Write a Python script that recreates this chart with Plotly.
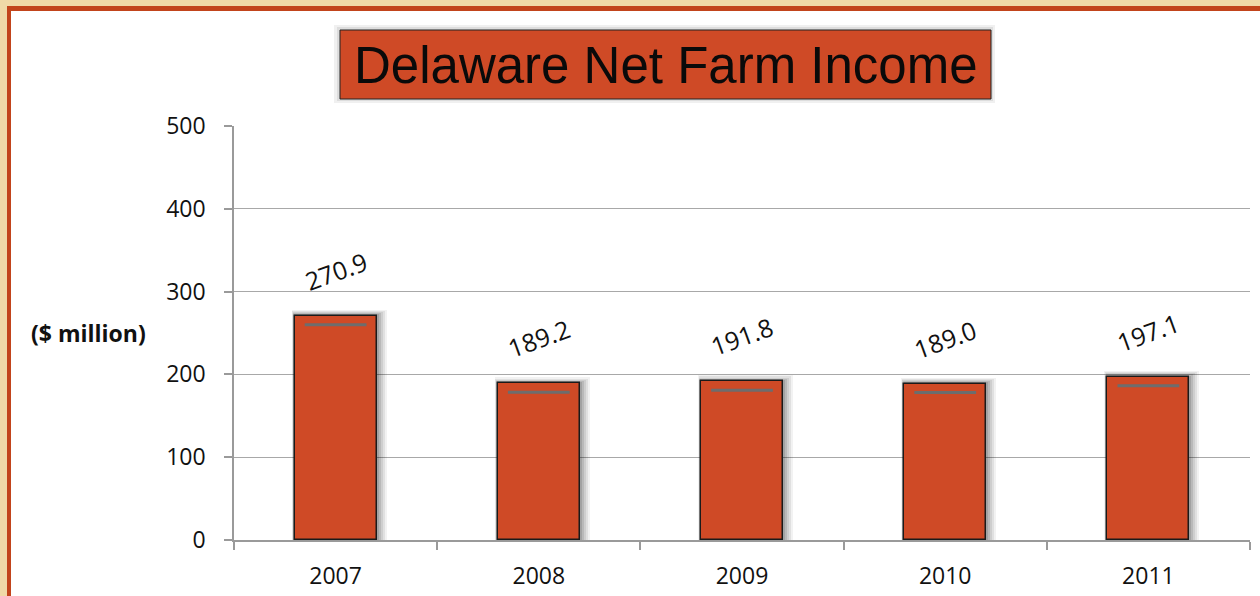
import plotly.graph_objects as go

years = ["2007", "2008", "2009", "2010", "2011"]
income = [270.9, 189.2, 191.8, 189.0, 197.1]
label_text = ["270.9", "189.2", "191.8", "189.0", "197.1"]
y_ticks = [0, 100, 200, 300, 400, 500]

W, H = 1260, 596
ML, MR, MT, MB = 234, 10, 126, 56
PW, PH = W - ML - MR, H - MT - MB

def px(x):
    return (x - ML) / PW

def py(y):
    return (H - MB - y) / PH

BAR = "#CF4A26"
BORDER = "#C2441B"
CREAM = "#F0D9A7"
BW = 0.404
CAT_PX = PW / 5.0          # pixels per category
UNIT_PX = PH / 500.0       # pixels per y unit

fig = go.Figure()

# soft shadow layers behind bars (mostly to the right and above)
for ext, a in [(10, 0.05), (8, 0.07), (6, 0.08), (4, 0.10), (2, 0.12)]:
    left = ext * 0.3 / CAT_PX
    right = ext / CAT_PX
    top = ext * 0.6 / UNIT_PX
    fig.add_trace(go.Bar(
        x=years, y=[v + top for v in income],
        width=BW + left + right, offset=-BW / 2 - left,
        marker=dict(color=f"rgba(0,0,0,{a})", line=dict(width=0)),
        hoverinfo="skip", showlegend=False))

fig.add_trace(go.Bar(
    x=years, y=income, width=BW,
    marker=dict(color=BAR, line=dict(color="#1a1a1a", width=1.5)),
    showlegend=False))

shapes = [
    dict(type="rect", xref="paper", yref="paper", x0=px(7), x1=px(1300), y0=py(6), y1=py(700),
         fillcolor=BORDER, line=dict(width=0), layer="below"),
    dict(type="rect", xref="paper", yref="paper", x0=px(11), x1=px(1300), y0=py(11), y1=py(700),
         fillcolor="white", line=dict(width=0), layer="below"),
    # title box shadow
    dict(type="rect", xref="paper", yref="paper", x0=px(334), x1=px(995), y0=py(25), y1=py(103),
         fillcolor="rgba(0,0,0,0.06)", line=dict(width=0), layer="above"),
    dict(type="rect", xref="paper", yref="paper", x0=px(337), x1=px(993), y0=py(27), y1=py(101),
         fillcolor="rgba(0,0,0,0.08)", line=dict(width=0), layer="above"),
    dict(type="rect", xref="paper", yref="paper", x0=px(340), x1=px(991), y0=py(30), y1=py(99),
         fillcolor=BAR, line=dict(color="#222", width=1), layer="above"),
]

# inner gray highlight line near each bar top
for i, v in enumerate(income):
    shapes.append(dict(type="line", xref="x", yref="y", x0=i - 0.152, x1=i + 0.152,
                       ysizemode="pixel", yanchor=v, y0=-9, y1=-9,
                       line=dict(color="#6d6d6d", width=3), layer="above"))

annotations = [
    dict(text="Delaware Net Farm Income", xref="paper", yref="paper", x=px(666), y=py(65),
         showarrow=False, xanchor="center", yanchor="middle",
         font=dict(family="Liberation Sans, Arial", size=51, color="#0a0a0a")),
    dict(text="<b>($ million)</b>", xref="paper", yref="y", x=px(88), y=250,
         showarrow=False, xanchor="center", yanchor="middle",
         font=dict(family="Open Sans", size=23, color="#111")),
]
for i, (v, t) in enumerate(zip(income, label_text)):
    annotations.append(dict(text=t, x=i, y=v, xref="x", yref="y", yshift=45,
                            showarrow=False, textangle=-20, xanchor="center", yanchor="middle",
                            font=dict(family="Open Sans", size=25, color="#111")))

fig.update_layout(
    width=W, height=H,
    margin=dict(l=ML, r=MR, t=MT, b=MB, pad=0, autoexpand=False),
    paper_bgcolor=CREAM, plot_bgcolor="white",
    barmode="overlay", bargap=0,
    shapes=shapes, annotations=annotations,
    xaxis=dict(type="category", range=[-0.5, 4.5], showgrid=False, automargin=False,
               showline=True, linecolor="#9a9a9a", linewidth=1.5,
               ticks="outside", tickson="boundaries", ticklen=8, tickcolor="#9a9a9a", tickwidth=1.5,
               tickfont=dict(family="Open Sans", size=23, color="#111"),
               ticklabelstandoff=15, fixedrange=True),
    yaxis=dict(range=[0, 500], tickvals=y_ticks, showgrid=True, gridcolor="#a8a8a8", gridwidth=1.2,
               automargin=False,
               showline=True, linecolor="#9a9a9a", linewidth=1.5, zeroline=False,
               ticks="outside", ticklen=8, tickcolor="#9a9a9a", tickwidth=1.5,
               tickfont=dict(family="Open Sans", size=23, color="#111"),
               ticklabelstandoff=14, fixedrange=True),
)

fig.write_html("out.html", config={"displayModeBar": False},
               post_script="document.body.style.margin='0';document.body.style.overflow='hidden';")
